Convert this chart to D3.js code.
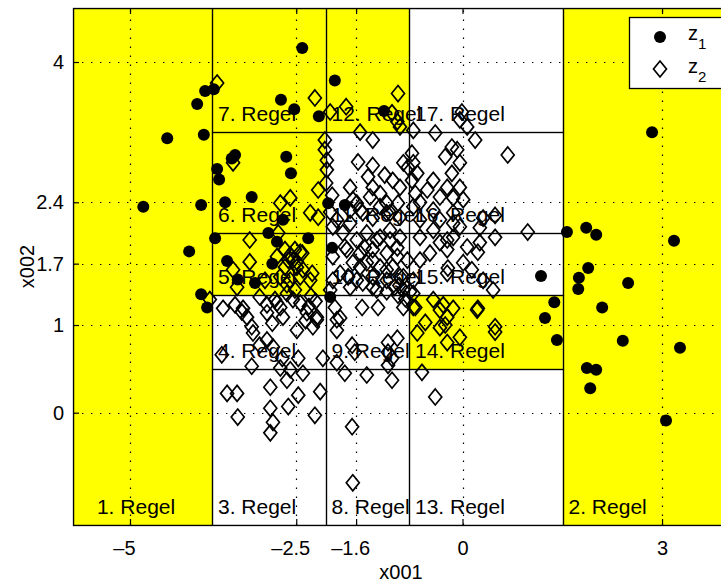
<!DOCTYPE html>
<html>
<head>
<meta charset="utf-8">
<script src="https://cdn.jsdelivr.net/npm/d3@7"></script>
<style>
  body { margin: 0; background: #fff; }
  svg { display: block; }
  text { font-family: Arial, "Liberation Sans", Helvetica, sans-serif; fill: #000; }
</style>
</head>
<body>
<svg id="chart" width="721" height="583"></svg>
<script>
// Axis ticks
const xTicks = [-5, -2.5, -1.6, 0, 3];
const yTicks = [0, 1, 1.7, 2.4, 4];

// Rule regions (boxes of the partition); Infinity = open side
const ruleNames = ["1. Regel","2. Regel","3. Regel","4. Regel","5. Regel","6. Regel","7. Regel","8. Regel","9. Regel",
                   "10. Regel","11. Regel","12. Regel","13. Regel","14. Regel","15. Regel","16. Regel","17. Regel"];
const ruleX0 = [-Infinity, 1.504, -3.767, -3.767, -3.767, -3.767, -3.767, -2.06, -2.06, -2.06, -2.06, -2.06, -0.805, -0.805, -0.805, -0.805, -0.805];
const ruleX1 = [-3.767, Infinity, -2.06, -2.06, -2.06, -2.06, -2.06, -0.805, -0.805, -0.805, -0.805, -0.805, 1.504, 1.504, 1.504, 1.504, 1.504];
const ruleY0 = [-Infinity, -Infinity, -Infinity, 0.498, 1.343, 2.05, 3.202, -Infinity, 0.498, 1.343, 2.05, 3.202, -Infinity, 0.498, 1.343, 2.05, 3.202];
const ruleY1 = [Infinity, Infinity, 0.498, 1.343, 2.05, 3.202, Infinity, 0.498, 1.343, 2.05, 3.202, Infinity, 0.498, 1.343, 2.05, 3.202, Infinity];
const ruleActive = [1, 1, 0, 0, 1, 1, 1, 0, 0, 0, 0, 1, 0, 1, 0, 0, 0];

// Class z1 samples [x001, x002]
const z1 = [
  [-4.80,2.35],[-4.44,3.13],[-4.11,1.84],[-3.99,3.52],[-3.87,3.67],[-3.74,3.69],[-3.89,3.17],[-3.93,2.37],[-3.72,1.99],[-3.93,1.35],
  [-3.84,1.20],[-3.69,2.78],[-3.66,2.66],[-3.42,2.94],[-3.47,2.90],[-2.65,2.92],[-2.58,2.73],[-2.73,3.57],[-2.53,3.46],[-3.17,2.46],
  [-3.57,2.40],[-2.41,4.16],[-1.92,3.79],[-2.16,3.38],[-1.18,3.44],[-2.70,2.20],[-2.92,2.05],[-2.79,1.95],[-3.54,1.73],[-2.86,1.70],
  [-3.38,1.52],[-1.77,2.37],[-2.02,2.39],[-2.32,1.99],[-1.96,1.88],[-1.99,1.32],[-3.12,1.48],
  [2.85,3.20],[1.57,2.06],[1.86,2.11],[2.01,2.03],[3.18,1.96],[1.18,1.56],[1.75,1.54],[1.89,1.65],[2.49,1.48],
  [1.74,1.41],[2.10,1.20],[1.38,1.26],[1.24,1.08],[1.42,0.83],[2.41,0.82],[3.27,0.74],[1.87,0.51],[2.01,0.49],[1.92,0.28],[3.06,-0.09]
];

// Class z2 samples [x001, x002]
const z2 = [
  [-3.69,3.76],[-2.22,3.59],[-0.97,3.64],[-1.75,3.49],[-1.99,3.43],[-1.06,3.42],[-0.98,3.32],[-0.94,3.26],[-0.74,3.22],[-0.01,3.43],
  [-0.04,3.34],[0.07,3.26],[0.19,3.11],[0.68,2.94],[-0.41,3.19],[-1.54,3.20],[-1.35,3.11],[-2.07,3.11],[-2.07,3.00],[-2.04,2.88],
  [-2.04,2.77],[-1.57,2.86],[-1.35,2.82],[-1.42,2.69],[-1.17,2.71],[-1.05,2.65],[-1.69,2.57],[-1.35,2.57],[-1.24,2.50],[-0.89,2.85],
  [-0.76,2.96],[-0.74,2.85],[-0.68,2.73],[-0.26,2.92],[-0.16,3.03],[-0.08,3.00],[-0.04,2.85],[-0.16,2.73],[-0.44,2.65],[-0.53,2.54],
  [-0.23,2.57],[-0.04,2.57],[-0.34,2.46],[-0.14,2.45],[0.01,2.43],[-0.76,2.65],[-0.94,2.57],[-2.17,2.54],[-2.59,2.45],[-2.74,2.39],
  [-2.29,2.28],[-2.17,2.23],[-1.96,2.48],[-1.99,2.29],[-1.89,2.20],[-1.65,2.43],[-1.54,2.31],[-1.24,2.35],[-1.14,2.28],[-0.94,2.23],
  [-0.74,2.35],[-0.64,2.20],[-0.44,2.31],[-0.34,2.20],[-0.14,2.28],[0.31,2.22],[0.49,2.25],[-3.20,1.97],[-2.77,2.05],[-2.79,1.78],
  [-2.67,1.86],[-2.59,1.80],[-2.44,1.83],[-2.55,1.74],[-3.20,1.72],[-3.45,1.63],[-2.29,1.51],[-2.26,1.59],[-2.74,1.55],[-2.59,1.51],
  [-2.44,1.55],[-2.49,1.66],[-1.95,2.12],[-1.80,2.05],[-1.69,2.16],[-1.59,1.97],[-1.44,2.05],[-1.24,2.00],[-1.09,2.08],[-0.94,2.00],
  [-1.74,1.86],[-1.54,1.82],[-1.35,1.86],[-1.14,1.82],[-0.98,1.88],[-1.65,1.71],[-1.44,1.71],[-1.24,1.66],[-1.05,1.66],[-0.83,1.74],
  [-1.84,1.59],[-1.59,1.51],[-1.35,1.55],[-1.14,1.51],[-0.94,1.55],[-0.74,1.51],[-0.64,2.00],[-0.44,2.08],[-0.34,1.94],[-0.14,2.00],
  [-0.04,2.12],[0.07,1.89],[0.26,1.94],[0.49,2.00],[0.23,1.83],[-0.49,1.82],[-0.23,1.86],[-0.64,1.74],[0.01,1.71],[-0.23,1.59],
  [0.46,1.40],[0.31,1.51],[-3.45,2.85],[-0.82,2.80],[-0.71,2.50],[0.98,2.06],[0.26,2.11],[-0.14,2.16],[-0.64,2.40],[-0.23,1.97],
  [-0.22,1.65],[0.14,1.63],[-0.44,1.29],[-0.29,1.23],[-0.14,1.19],[0.23,1.19],[-0.71,1.20],[-0.56,1.03],[-0.23,1.09],[-0.26,1.00],
  [0.49,0.98],[-0.79,1.38],[-2.62,1.74],[-2.67,1.66],[-2.64,1.46],[-3.39,1.43],[-2.97,1.51],[-3.80,1.29],[-3.60,1.19],[-3.42,1.23],
  [-3.32,1.15],[-3.24,1.09],[-3.05,1.32],[-2.94,1.23],[-2.82,1.29],[-2.74,1.20],[-2.64,1.36],[-2.55,1.29],[-3.17,0.98],[-1.77,1.89],
  [-1.95,1.78],[-1.47,1.88],[-1.29,1.97],[-1.09,1.97],[-1.54,1.66],[-1.35,1.74],[-1.14,1.63],[-0.98,1.78],[-0.89,1.55],[-1.29,1.40],
  [-1.72,1.55],[-1.69,1.43],[-1.95,1.51],[-1.99,1.40],[-1.51,1.20],[-1.27,1.20],[-1.84,1.08],[-1.59,2.39],[-1.39,2.46],[-1.14,2.39],
  [-0.97,2.39],[-1.50,2.28],[-1.35,2.22],[-1.09,2.28],[-1.69,2.31],[-2.52,1.86],[-2.41,1.82],[-2.49,1.72],[-2.40,1.63],[-2.52,1.40],
  [-2.44,1.25],[-2.19,1.06],[-0.89,1.20],[-3.30,1.19],[-2.94,1.14],[-2.79,1.25],[-2.70,1.09],[-2.34,1.14],[-2.19,1.09],[-2.25,0.98],
  [-2.49,0.94],[-2.86,1.02],[-3.15,0.91],[-2.94,0.83],[-3.05,0.77],[-2.85,0.75],[-3.62,0.66],[-3.17,0.53],[-2.71,0.62],[-2.47,0.62],
  [-2.74,0.51],[-2.59,0.49],[-2.40,0.45],[-2.64,0.37],[-2.47,0.20],[-2.89,0.29],[-3.54,0.22],[-3.39,0.22],[-3.38,-0.05],[-2.89,0.05],
  [-2.85,-0.11],[-2.89,-0.23],[-2.62,0.07],[-2.22,-0.03],[-2.14,0.24],[-2.10,0.62],[-1.92,1.20],[-1.89,1.06],[-1.89,0.94],[-1.66,0.77],
  [-1.62,0.69],[-1.89,0.57],[-1.77,0.45],[-1.44,0.43],[-1.12,0.54],[-1.06,0.37],[-1.12,0.80],[-0.98,0.85],[-1.12,0.69],[-1.06,0.62],
  [-1.66,-0.16],[-1.65,-0.80],[-0.61,0.46],[-0.41,0.18],[-0.74,1.20],[-0.34,1.17],[-0.34,0.97],[-0.23,0.80],[-0.04,0.86],[0.22,1.17],
  [0.49,0.92],[-0.74,1.36],[-0.68,0.91],[-0.89,1.40],[-0.97,1.34],[-1.14,1.38],[-1.35,1.43],[-1.50,1.48],[-2.05,2.62],
  [-0.95,1.45],[-0.86,1.30],[-1.02,1.43],[-2.31,1.21],[-2.21,1.27],[-2.36,1.05],[-2.28,1.33]
];

const seriesNames = ["z", "z"];
const seriesSubs = ["1", "2"];

// ---- layout ----
const svg = d3.select("#chart");
const plot = { left: 73, top: 8, right: 729, bottom: 525 };
const xDomain = [-5.857, 4.007];
const yDomain = [-1.281, 4.616];

const x = d3.scaleLinear().domain(xDomain).range([plot.left, plot.right]);
const y = d3.scaleLinear().domain(yDomain).range([plot.bottom, plot.top]);

const clampX = v => Math.max(xDomain[0], Math.min(xDomain[1], v));
const clampY = v => Math.max(yDomain[0], Math.min(yDomain[1], v));

const rules = ruleNames.map((name, i) => ({
  name,
  x0: clampX(ruleX0[i]), x1: clampX(ruleX1[i]),
  y0: clampY(ruleY0[i]), y1: clampY(ruleY1[i]),
  active: ruleActive[i] === 1
}));

const defs = svg.append("defs");
defs.append("clipPath").attr("id", "plotClip")
  .append("rect")
  .attr("x", plot.left).attr("y", plot.top)
  .attr("width", plot.right - plot.left).attr("height", plot.bottom - plot.top);

const body = svg.append("g").attr("clip-path", "url(#plotClip)");

// Region fills
body.append("g").selectAll("rect").data(rules).join("rect")
  .attr("x", d => x(d.x0))
  .attr("y", d => y(d.y1))
  .attr("width", d => x(d.x1) - x(d.x0))
  .attr("height", d => y(d.y0) - y(d.y1))
  .attr("fill", d => d.active ? "#ffff00" : "#ffffff");

// Dotted grid
const grid = body.append("g").attr("stroke", "#000").attr("stroke-width", 1.2)
  .attr("stroke-dasharray", "1.4 7.6");
grid.selectAll("line.gx").data(xTicks).join("line").attr("class", "gx")
  .attr("x1", d => Math.round(x(d)) + 0.5).attr("x2", d => Math.round(x(d)) + 0.5)
  .attr("y1", plot.bottom).attr("y2", plot.top);
grid.selectAll("line.gy").data(yTicks).join("line").attr("class", "gy")
  .attr("y1", d => Math.round(y(d)) + 0.5).attr("y2", d => Math.round(y(d)) + 0.5)
  .attr("x1", plot.left).attr("x2", plot.right);

// Region borders
body.append("g").selectAll("rect").data(rules).join("rect")
  .attr("x", d => Math.round(x(d.x0)) + 0.5)
  .attr("y", d => Math.round(y(d.y1)) + 0.5)
  .attr("width", d => Math.round(x(d.x1)) - Math.round(x(d.x0)))
  .attr("height", d => Math.round(y(d.y0)) - Math.round(y(d.y1)))
  .attr("fill", "none").attr("stroke", "#000").attr("stroke-width", 1.2);

// Region labels, anchored at the lower-left corner of each box
body.append("g").selectAll("text").data(rules).join("text")
  .attr("x", d => x(Math.max(d.x0, xDomain[0] + 0.27) + 0.09))
  .attr("y", d => y(d.y0 + 0.125))
  .attr("font-size", 21)
  .text(d => d.name);

// Markers: z1 filled circles, then z2 open diamonds
body.append("g").selectAll("circle").data(z1).join("circle")
  .attr("cx", d => x(d[0])).attr("cy", d => y(d[1]))
  .attr("r", 6).attr("fill", "#000");

const diamond = "M0,-8L6.5,0L0,8L-6.5,0Z";
body.append("g").selectAll("path").data(z2).join("path")
  .attr("transform", d => `translate(${x(d[0])},${y(d[1])})`)
  .attr("d", diamond)
  .attr("fill", "none").attr("stroke", "#000").attr("stroke-width", 1.7);

// Axes
const fmt = d => (d < 0 ? "\u2013" + Math.abs(d) : String(d));
const axB = svg.append("g").attr("transform", `translate(0,${plot.bottom})`)
  .call(d3.axisBottom(x).tickValues(xTicks).tickFormat(fmt).tickSizeInner(-6).tickSizeOuter(0).tickPadding(16));
const axL = svg.append("g").attr("transform", `translate(${plot.left},0)`)
  .call(d3.axisLeft(y).tickValues(yTicks).tickFormat(fmt).tickSizeInner(-6).tickSizeOuter(0).tickPadding(9));
const axT = svg.append("g").attr("transform", `translate(0,${plot.top})`)
  .call(d3.axisTop(x).tickValues(xTicks).tickFormat("").tickSizeInner(-6).tickSizeOuter(0));
const axR = svg.append("g").attr("transform", `translate(${plot.right},0)`)
  .call(d3.axisRight(y).tickValues(yTicks).tickFormat("").tickSizeInner(-6).tickSizeOuter(0));
[axB, axL, axT, axR].forEach(g => {
  g.select(".domain").remove();
  g.selectAll("line").attr("stroke", "#000").attr("stroke-width", 1.2);
  g.selectAll("text").attr("font-size", 20).attr("font-family", "Arial, 'Liberation Sans', sans-serif").attr("fill", "#000");
});
// negative labels hang their dash to the left of the tick
axB.selectAll("text").attr("dy", "0.71em").attr("dx", d => d < 0 ? -6 : 0);

// Frame
svg.append("rect")
  .attr("x", plot.left + 0.5).attr("y", plot.top + 0.5)
  .attr("width", plot.right - plot.left).attr("height", plot.bottom - plot.top)
  .attr("fill", "none").attr("stroke", "#000").attr("stroke-width", 1.3);

// Axis titles
svg.append("text").attr("x", (plot.left + plot.right) / 2).attr("y", 579)
  .attr("text-anchor", "middle").attr("font-size", 20).text("x001");
svg.append("text").attr("transform", `translate(34,${(plot.top + plot.bottom) / 2}) rotate(-90)`)
  .attr("text-anchor", "middle").attr("font-size", 20).text("x002");

// Legend
const lg = svg.append("g");
lg.append("rect").attr("x", 629.5).attr("y", 17.5).attr("width", 95).attr("height", 71)
  .attr("fill", "#fff").attr("stroke", "#000").attr("stroke-width", 1.3);
lg.append("circle").attr("cx", 660).attr("cy", 37).attr("r", 6).attr("fill", "#000");
lg.append("path").attr("transform", "translate(660,69)").attr("d", diamond)
  .attr("fill", "none").attr("stroke", "#000").attr("stroke-width", 1.7);
[0, 1].forEach(i => {
  const t = lg.append("text").attr("x", 688).attr("y", 40 + i * 33).attr("font-size", 20);
  t.append("tspan").text(seriesNames[i]);
  t.append("tspan").attr("dy", 9).attr("font-size", 15).text(seriesSubs[i]);
});
</script>
</body>
</html>
